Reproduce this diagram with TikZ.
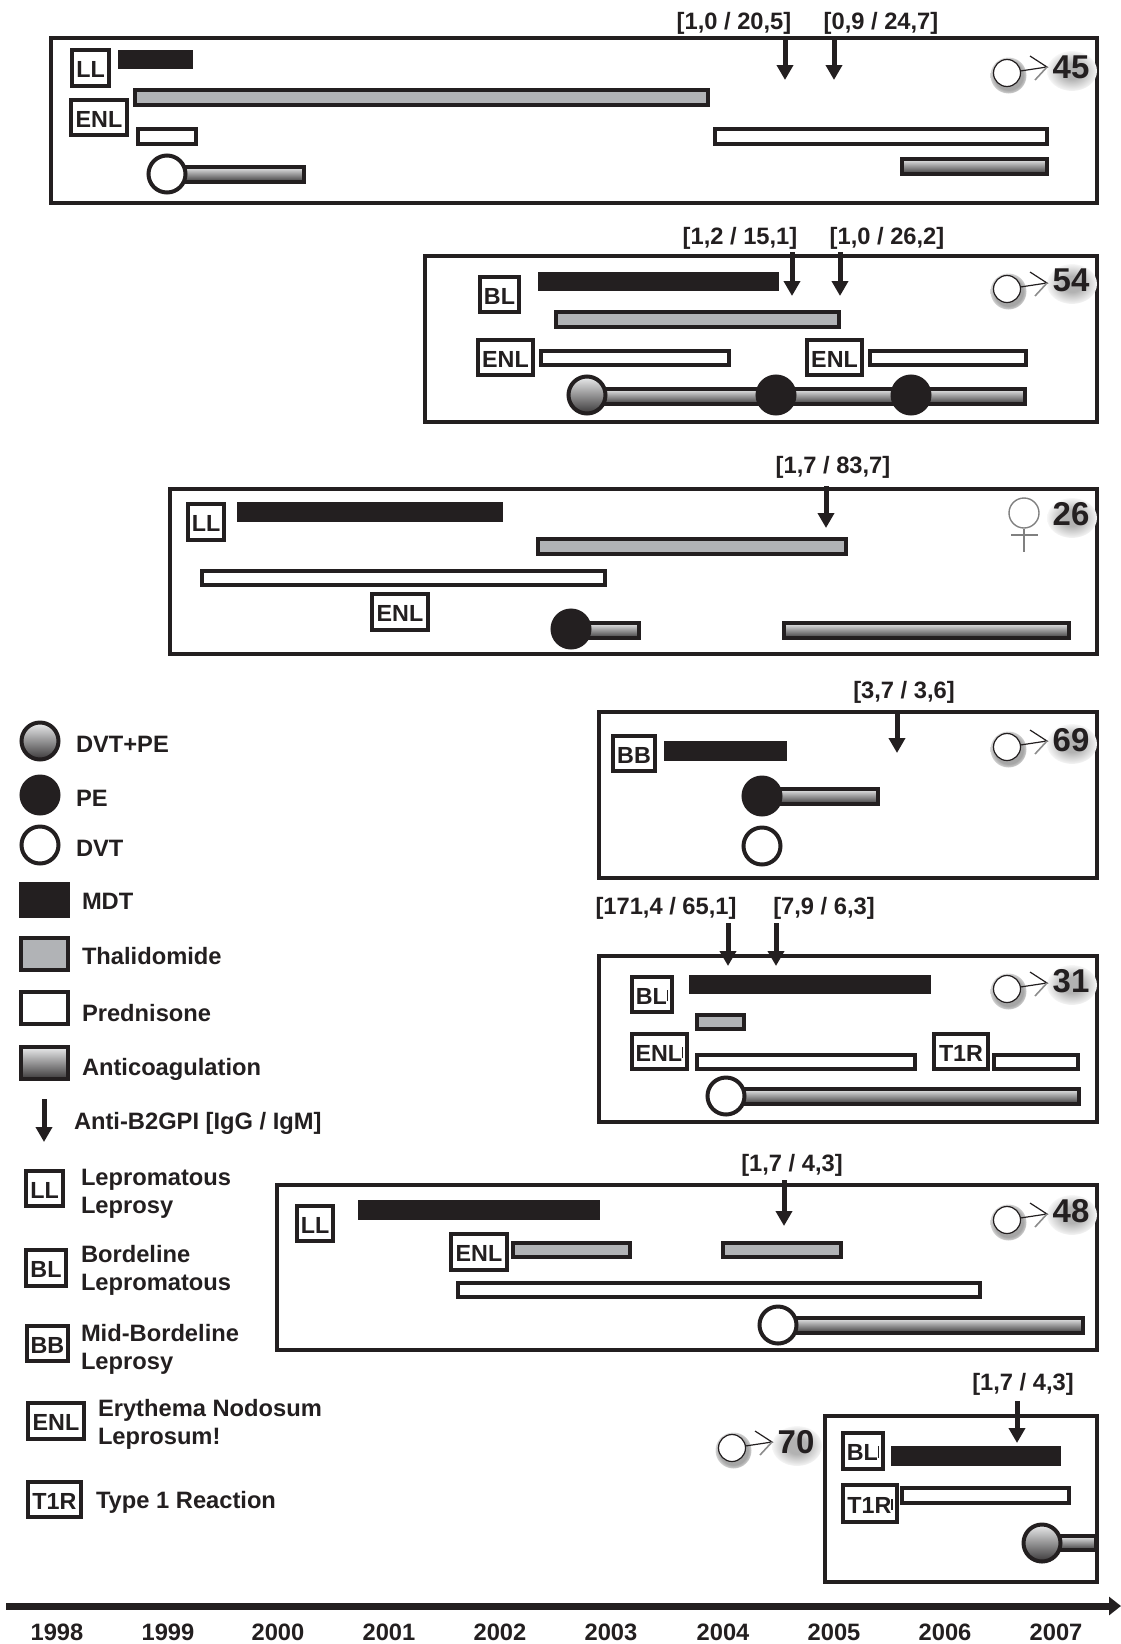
\documentclass[tikz,border=0pt]{standalone}
\usepackage{fontspec}
\setmainfont{Liberation Sans}
\usetikzlibrary{arrows.meta}
\definecolor{ink}{HTML}{231F20}
\definecolor{thal}{HTML}{B1B3B6}
\definecolor{actop}{HTML}{ECEDEE}
\definecolor{acbot}{HTML}{3A3839}
\pgfdeclareradialshading{numshade}{\pgfpoint{0bp}{0bp}}{color(0bp)=(black!30); color(10bp)=(black!30); color(27bp)=(white); color(50bp)=(white)}
\pgfdeclareradialshading{circshade}{\pgfpoint{0bp}{0bp}}{color(0bp)=(black!35); color(20bp)=(black!35); color(30bp)=(white); color(50bp)=(white)}
\tikzset{
  allbox/.style={inner sep=0pt,outer sep=0pt,line width=4pt,draw=ink,rectangle},
  panelbox/.style={allbox},
  mdtbar/.style={allbox,fill=ink},
  thalbar/.style={allbox,fill=thal},
  predbar/.style={allbox,fill=white},
  acbar/.style={allbox,top color=actop,bottom color=acbot},
  lblbox/.style={allbox,fill=white,text=ink,font=\bfseries\fontsize{23.3}{23.3}\selectfont},
  allcirc/.style={circle,inner sep=0pt,outer sep=0pt,line width=4pt,draw=ink,minimum size=37pt},
  dvt/.style={allcirc,fill=white},
  pe/.style={allcirc,fill=ink},
  dvtpe/.style={allcirc,top color=actop,bottom color=acbot},
  txt/.style={inner sep=0pt,outer sep=0pt,yshift=-1.5pt,text=ink,font=\bfseries\fontsize{23.7}{28}\selectfont},
  legtxt/.style={txt,anchor=west,align=left},
  abarrow/.style={draw=ink,line width=5pt,-{Triangle[length=15pt,width=16pt]}},
  axisarrow/.style={draw=ink,line width=7pt,-{Triangle[length=12pt,width=18pt]}},
  agenum/.style={inner sep=0pt,outer sep=0pt,text=ink,font=\bfseries\fontsize{33}{33}\selectfont},
  gendercirc/.style={circle,inner sep=0pt,outer sep=0pt,draw=ink,line width=1.2pt,fill=white,minimum size=27pt},
}
% style, name, x1, y1, x2, y2, text
\newcommand{\bx}[7]{%
  \pgfmathsetmacro{\bxw}{#5-#3-3.5}%
  \pgfmathsetmacro{\bxh}{#6-#4-3.5}%
  \pgfmathsetmacro{\bxcx}{(#3+#5)/2}%
  \pgfmathsetmacro{\bxcy}{(#4+#6)/2}%
  \node[#1,minimum width=\bxw pt,minimum height=\bxh pt] (#2) at (\bxcx,\bxcy) {\raisebox{-1.5pt}[\height][\depth]{#7}};}
\newcommand{\sliver}{\rule[0.12em]{1.2pt}{0.5em}}
% name, x, y1, y2
\newcommand{\downarr}[4]{%
  \coordinate (#1s) at (#2,#3);
  \coordinate (#1e) at (#2,#4);
  \draw[abarrow] (#1s) -- (#1e);}
% name, cx, cy, number, number dy
\newcommand{\genderm}[5]{%
  \begin{scope}[shift={(#2,#3)}]
    \shade[shading=circshade] (1.5,2.5) circle (18);
    \shade[shading=numshade] (65,#5+4) ellipse (25 and 20);
    \node[gendercirc] (#1c) at (0,0) {};
    \coordinate (#1t) at (40,-6);
    \coordinate (#1u) at (23,-17);
    \coordinate (#1l) at (28,7);
    \draw[ink,line width=1.2pt] (#1c) -- (#1t) -- (#1u);
    \draw[black!45,line width=1.6pt] (#1t) -- (#1l);
    \node[agenum] (#1n) at (64,#5) {#4};
  \end{scope}}
\begin{document}
\begin{tikzpicture}[x=1pt,y=-1pt]
\useasboundingbox (0,0) rectangle (1121,1644);

% ---- panel 1
\bx{panelbox}{p1}{49}{36}{1099}{205}{}
\bx{lblbox}{p1ll}{70}{48}{111}{88}{LL}
\bx{lblbox}{p1enl}{69}{98}{129}{137}{ENL}
\bx{mdtbar}{p1m}{118}{50}{193}{69}{}
\bx{thalbar}{p1t}{133}{88}{710}{107}{}
\bx{predbar}{p1p}{136}{127}{198}{146}{}
\bx{predbar}{p1q}{713}{127}{1049}{146}{}
\bx{acbar}{p1a}{167}{165}{306}{184}{}
\bx{acbar}{p1b}{900}{157}{1049}{176}{}
\node[dvt] (p1c) at (167,174) {};
\downarr{p1x}{785}{36}{80}
\downarr{p1y}{834}{36}{80}
\node[txt] (p1xl) at (734,22) {[1,0 / 20,5]};
\node[txt] (p1yl) at (881,22) {[0,9 / 24,7]};
\genderm{g1}{1007}{73}{45}{-6}

% ---- panel 2
\bx{panelbox}{p2}{423}{254}{1099}{424}{}
\bx{lblbox}{p2bl}{478}{275}{521}{314}{BL}
\bx{lblbox}{p2enl}{476}{338}{535}{377}{ENL}
\bx{lblbox}{p2enlb}{805}{338}{864}{377}{ENL}
\bx{mdtbar}{p2m}{538}{272}{779}{291}{}
\bx{thalbar}{p2t}{554}{310}{841}{329}{}
\bx{predbar}{p2p}{539}{349}{731}{367}{}
\bx{predbar}{p2q}{868}{349}{1028}{367}{}
\bx{acbar}{p2a}{587}{387}{1027}{406}{}
\node[dvtpe] (p2c) at (587,395) {};
\node[pe] (p2d) at (776,395) {};
\node[pe] (p2e) at (911,395) {};
\downarr{p2x}{792}{252}{296}
\downarr{p2y}{840}{252}{296}
\node[txt] (p2xl) at (740,237) {[1,2 / 15,1]};
\node[txt] (p2yl) at (887,237) {[1,0 / 26,2]};
\genderm{g2}{1007}{289}{54}{-9}

% ---- panel 3
\bx{panelbox}{p3}{168}{487}{1099}{656}{}
\bx{lblbox}{p3ll}{186}{502}{226}{542}{LL}
\bx{lblbox}{p3enl}{370}{592}{430}{632}{ENL}
\bx{mdtbar}{p3m}{237}{502}{503}{522}{}
\bx{thalbar}{p3t}{536}{537}{848}{556}{}
\bx{predbar}{p3p}{200}{569}{607}{587}{}
\bx{acbar}{p3a}{571}{621}{641}{640}{}
\bx{acbar}{p3b}{782}{621}{1071}{640}{}
\node[pe] (p3c) at (571,629) {};
\downarr{p3x}{826}{486}{528}
\node[txt] (p3xl) at (833,466) {[1,7 / 83,7]};
\shade[shading=numshade] (1072,518) ellipse (25 and 20);
\node[agenum] (g3n) at (1071,514) {26};
\node[circle,inner sep=0pt,draw=black!50,line width=1.4pt,minimum size=30pt] (g3c) at (1024,513) {};
\coordinate (g3d) at (1024,552);
\coordinate (g3l) at (1011,535);
\coordinate (g3r) at (1038,535);
\draw[black!50,line width=1.4pt] (g3c) -- (g3d) (g3l) -- (g3r);

% ---- panel 4
\bx{panelbox}{p4}{597}{710}{1099}{880}{}
\bx{lblbox}{p4bb}{611}{734}{657}{773}{BB}
\bx{mdtbar}{p4m}{664}{741}{787}{761}{}
\bx{acbar}{p4a}{762}{787}{880}{806}{}
\node[pe] (p4c) at (762,796) {};
\node[dvt] (p4d) at (762,846) {};
\downarr{p4x}{897}{710}{753}
\node[txt] (p4xl) at (904,691) {[3,7 / 3,6]};
\genderm{g4}{1007}{747}{69}{-7}

% ---- panel 5
\bx{panelbox}{p5}{597}{954}{1099}{1124}{}
\bx{lblbox}{p5bl}{630}{975}{674}{1014}{BL\sliver}
\bx{lblbox}{p5enl}{630}{1032}{689}{1071}{ENL\sliver}
\bx{lblbox}{p5t1r}{932}{1032}{990}{1071}{T1R}
\bx{mdtbar}{p5m}{689}{975}{931}{994}{}
\bx{thalbar}{p5t}{695}{1013}{746}{1031}{}
\bx{predbar}{p5p}{695}{1053}{917}{1071}{}
\bx{predbar}{p5q}{992}{1053}{1080}{1071}{}
\bx{acbar}{p5a}{726}{1087}{1081}{1106}{}
\node[dvt] (p5c) at (726,1096) {};
\downarr{p5x}{728}{923}{966}
\downarr{p5y}{776}{923}{966}
\node[txt] (p5xl) at (666,907) {[171,4 / 65,1]};
\node[txt] (p5yl) at (824,907) {[7,9 / 6,3]};
\genderm{g5}{1007}{989}{31}{-8}

% ---- panel 6
\bx{panelbox}{p6}{275}{1183}{1099}{1352}{}
\bx{lblbox}{p6ll}{295}{1204}{335}{1243}{LL}
\bx{lblbox}{p6enl}{449}{1232}{509}{1272}{ENL}
\bx{mdtbar}{p6m}{358}{1200}{600}{1220}{}
\bx{thalbar}{p6t}{511}{1241}{632}{1259}{}
\bx{thalbar}{p6u}{721}{1241}{843}{1259}{}
\bx{predbar}{p6p}{456}{1281}{982}{1299}{}
\bx{acbar}{p6a}{778}{1316}{1085}{1335}{}
\node[dvt] (p6c) at (778,1325) {};
\downarr{p6x}{784}{1180}{1226}
\node[txt] (p6xl) at (792,1164) {[1,7 / 4,3]};
\genderm{g6}{1007}{1220}{48}{-9}

% ---- panel 7
\bx{panelbox}{p7}{823}{1414}{1099}{1584}{}
\bx{lblbox}{p7bl}{841}{1431}{885}{1471}{BL\sliver}
\bx{lblbox}{p7t1r}{841}{1483}{899}{1524}{T1R\sliver}
\bx{mdtbar}{p7m}{891}{1446}{1061}{1466}{}
\bx{predbar}{p7p}{900}{1486}{1071}{1505}{}
\bx{acbar}{p7a}{1042}{1534}{1098}{1552}{}
\node[dvtpe] (p7c) at (1042,1543) {};
\downarr{p7x}{1017}{1401}{1443}
\node[txt] (p7xl) at (1023,1383) {[1,7 / 4,3]};
\genderm{g7}{732}{1448}{70}{-6}

% ---- legend
\node[dvtpe] (l1) at (40,741) {};
\node[pe] (l2) at (40,795) {};
\node[dvt] (l3) at (40,845) {};
\bx{mdtbar}{l4}{19}{882}{70}{918}{}
\bx{thalbar}{l5}{19}{936}{70}{972}{}
\bx{predbar}{l6}{19}{990}{70}{1026}{}
\bx{acbar}{l7}{19}{1045}{70}{1081}{}
\downarr{l8}{44}{1099}{1142}
\node[legtxt] (t1) at (76,743) {DVT+PE};
\node[legtxt] (t2) at (76,797) {PE};
\node[legtxt] (t3) at (76,847) {DVT};
\node[legtxt] (t4) at (82,900) {MDT};
\node[legtxt] (t5) at (82,955) {Thalidomide};
\node[legtxt] (t6) at (82,1012) {Prednisone};
\node[legtxt] (t7) at (82,1068) {Anticoagulation};
\node[legtxt] (t8) at (74,1122) {Anti-B2GPI [IgG / IgM]};
\bx{lblbox}{k1}{24}{1169}{65}{1208}{LL}
\bx{lblbox}{k2}{24}{1248}{68}{1288}{BL}
\bx{lblbox}{k3}{25}{1324}{70}{1363}{BB}
\bx{lblbox}{k4}{26}{1401}{86}{1441}{ENL}
\bx{lblbox}{k5}{26}{1480}{83}{1519}{T1R}
\node[legtxt] (m1) at (81,1192) {Lepromatous\\Leprosy};
\node[legtxt] (m2) at (81,1269) {Bordeline\\Lepromatous};
\node[legtxt] (m3) at (81,1348) {Mid-Bordeline\\Leprosy};
\node[legtxt] (m4) at (98,1423) {Erythema Nodosum\\Leprosum!};
\node[legtxt] (m5) at (96,1501) {Type 1 Reaction};

% ---- axis
\coordinate (axL) at (6,1606);
\coordinate (axR) at (1121,1606);
\draw[axisarrow] (axL) -- (axR);
\node[txt] (y98) at (57,1631) {1998};
\node[txt] (y99) at (168,1631) {1999};
\node[txt] (y00) at (278,1631) {2000};
\node[txt] (y01) at (389,1631) {2001};
\node[txt] (y02) at (500,1631) {2002};
\node[txt] (y03) at (611,1631) {2003};
\node[txt] (y04) at (723,1631) {2004};
\node[txt] (y05) at (834,1631) {2005};
\node[txt] (y06) at (945,1631) {2006};
\node[txt] (y07) at (1056,1631) {2007};
\end{tikzpicture}
\end{document}
